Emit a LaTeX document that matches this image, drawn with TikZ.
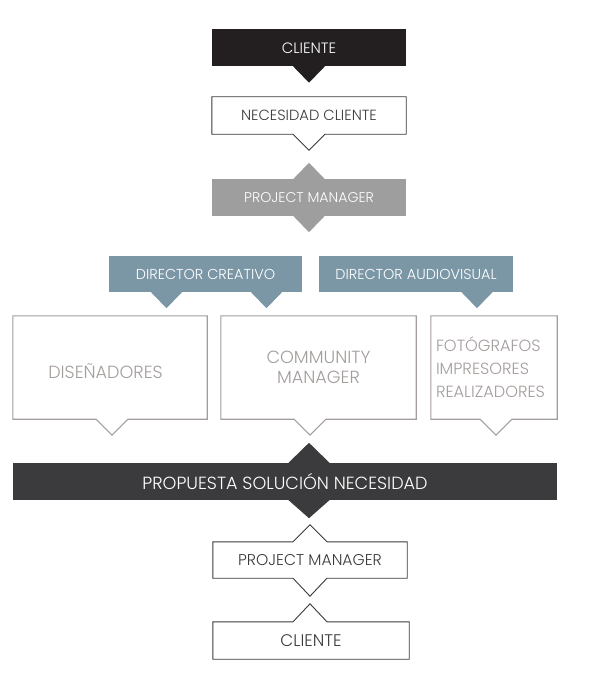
\documentclass[tikz,border=0pt]{standalone}
\usepackage{fontspec}
\setmainfont{Poppins}[UprightFont={* Light}]
\definecolor{inkblack}{HTML}{231F20}
\definecolor{slab}{HTML}{3B3A3C}
\definecolor{pmgray}{HTML}{9D9E9D}
\definecolor{dirblue}{HTML}{7B97A5}
\definecolor{framegray}{HTML}{A39D9B}
\definecolor{softtext}{HTML}{A39D9B}
\definecolor{darkline}{HTML}{3A3A3A}
\tikzset{
  box/.style={minimum width=194, minimum height=37, inner sep=0pt,
    font=\fontsize{14.4}{16}\selectfont},
  bigbox/.style={minimum width=194, minimum height=103, inner sep=0pt,
    text=softtext, font=\fontsize{17.6}{20}\selectfont, align=center},
  outline/.style={draw=darkline, line width=0.9pt, line join=miter},
  softline/.style={draw=framegray, line width=1.1pt, line join=miter},
}
\begin{document}
\begin{tikzpicture}[x=1pt,y=-1pt]
\useasboundingbox (0,0) rectangle (592,674);
% top: cliente and necesidad
\node[box, fill=inkblack, text=white, font=\fontsize{15}{16}\selectfont] (cli) at (309,48) {CLIENTE};
\fill[inkblack] ([xshift=-16,yshift=0.5]cli.south) -- ++(16,16.5) -- ++(16,-16.5) -- cycle;
\node[box, text=darkline, font=\fontsize{14.7}{16}\selectfont] (need) at (309,115.5) {NECESIDAD CLIENTE};
\draw[outline] (need.south west) -- (need.north west) -- (need.north east) -- (need.south east)
  -- ([xshift=16]need.south) -- ++(-16,16) -- ++(-16,-16) -- cycle;
% project manager
\node[box, fill=pmgray, text=white, font=\fontsize{14.1}{16}\selectfont] (pm) at (309,197.5) {PROJECT MANAGER};
\fill[pmgray] ([xshift=-16,yshift=-0.5]pm.north) -- ++(16,-16.5) -- ++(16,16.5) -- cycle;
\fill[pmgray] ([xshift=-16,yshift=0.5]pm.south) -- ++(16,16.5) -- ++(16,-16.5) -- cycle;
% directors
\node[box, minimum width=193, minimum height=36, fill=dirblue, text=white] (dcre) at (205.5,274) {DIRECTOR CREATIVO};
\node[box, minimum height=36, fill=dirblue, text=white] (daud) at (416,274) {DIRECTOR AUDIOVISUAL};
\foreach \dx in {-39,61}
  \fill[dirblue] ([xshift=\dx-16,yshift=0.5]dcre.south) -- ++(16,16.5) -- ++(16,-16.5) -- cycle;
\fill[dirblue] ([xshift=45,yshift=0.5]daud.south) -- ++(16,16.5) -- ++(16,-16.5) -- cycle;
% teams
\node[bigbox] (dis) at (110,367.5) {\hspace*{-9pt}\raisebox{-4pt}[\height][\depth]{DISEÑADORES}};
\node[bigbox, minimum width=195] (com) at (318.5,367.5) {COMMUNITY\\MANAGER};
\node[bigbox, minimum width=126, align=left, font=\fontsize{16.2}{23}\selectfont] (foto) at (494,367.5) {\hspace*{-2pt}\parbox{114pt}{\raggedright FOTÓGRAFOS\\IMPRESORES\\REALIZADORES}};
\draw[softline] (dis.south west) -- (dis.north west) -- (dis.north east) -- (dis.south east)
  -- ([xshift=18]dis.south) -- ++(-16,16) -- ++(-16,-16) -- cycle;
\draw[softline] (com.south west) -- (com.north west) -- (com.north east) -- (com.south east)
  -- ([xshift=7.5]com.south) -- ++(-16,16) -- ++(-16,-16) -- cycle;
\draw[softline] (foto.south west) -- (foto.north west) -- (foto.north east) -- (foto.south east)
  -- ([xshift=18]foto.south) -- ++(-16,16) -- ++(-16,-16) -- cycle;
% propuesta
\node[box, minimum width=544, fill=slab, text=white, font=\fontsize{17.6}{18}\selectfont] (prop) at (285,481.5) {PROPUESTA SOLUCIÓN NECESIDAD};
\fill[slab] ([xshift=3,yshift=-0.5]prop.north) -- ++(21,-20.5) -- ++(21,20.5) -- cycle;
\fill[slab] ([xshift=3,yshift=0.5]prop.south) -- ++(21,18.5) -- ++(21,-18.5) -- cycle;
% bottom: project manager and cliente
\node[box, minimum height=36, text=darkline, font=\fontsize{15.6}{16}\selectfont] (pm2) at (310,560) {PROJECT MANAGER};
\draw[outline] (pm2.north west) -- ([xshift=-17]pm2.north) -- ++(17,-17) -- ++(17,17) -- (pm2.north east)
  -- (pm2.south east) -- ([xshift=17]pm2.south) -- ++(-17,18) -- ++(-17,-18) -- (pm2.south west) -- cycle;
\node[box, minimum width=196, text=darkline, font=\fontsize{16.8}{18}\selectfont] (cli2) at (311,640.5) {CLIENTE};
\draw[outline] (cli2.north west) -- ([xshift=-18]cli2.north) -- ++(17,-18) -- ++(17,18) -- (cli2.north east)
  -- (cli2.south east) -- (cli2.south west) -- cycle;
\end{tikzpicture}
\end{document}
